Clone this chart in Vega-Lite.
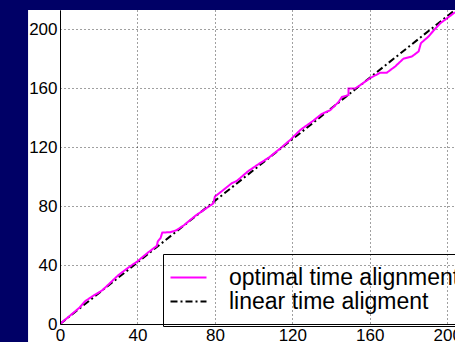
{
  "$schema": "https://vega.github.io/schema/vega-lite/v6.json",
  "autosize": "none",
  "padding": {"left": 60, "top": 10, "right": 0, "bottom": 18},
  "width": 395,
  "height": 314,
  "background": "#000066",
  "config": {
    "view": {"stroke": null},
    "font": "Liberation Sans",
    "axis": {
      "labelFont": "Liberation Sans",
      "labelFontSize": 17,
      "labelColor": "#000000",
      "domainColor": "#000000",
      "domainWidth": 1,
      "ticks": false,
      "labelPadding": 3,
      "gridColor": "#000000",
      "gridDash": [1, 3],
      "gridOpacity": 0.75,
      "gridWidth": 1,
      "labelFlush": false,
      "title": null
    },
    "legend": {
      "title": null,
      "fillColor": "#ffffff",
      "strokeColor": "#000000",
      "padding": 12,
      "symbolType": "M-2,0H2",
      "symbolSize": 324,
      "symbolStrokeWidth": 2,
      "symbolOffset": 2,
      "labelFontSize": 23,
      "labelFont": "Liberation Sans",
      "labelColor": "#000000",
      "labelOffset": 29,
      "rowPadding": -13,
      "labelLimit": 400
    }
  },
  "datasets": {
    "paths": [
      {"i": 0, "series": "linear time aligment", "frame_ref": 0, "frame_test": 0},
      {"i": 1, "series": "linear time aligment", "frame_ref": 204, "frame_test": 213},
      {"i": 0, "series": "optimal time alignment", "frame_ref": 0, "frame_test": 0},
      {"i": 1, "series": "optimal time alignment", "frame_ref": 5, "frame_test": 5.5},
      {"i": 2, "series": "optimal time alignment", "frame_ref": 10, "frame_test": 11},
      {"i": 3, "series": "optimal time alignment", "frame_ref": 13, "frame_test": 15.5},
      {"i": 4, "series": "optimal time alignment", "frame_ref": 17, "frame_test": 19},
      {"i": 5, "series": "optimal time alignment", "frame_ref": 22, "frame_test": 23},
      {"i": 6, "series": "optimal time alignment", "frame_ref": 26, "frame_test": 28},
      {"i": 7, "series": "optimal time alignment", "frame_ref": 30, "frame_test": 33},
      {"i": 8, "series": "optimal time alignment", "frame_ref": 34.5, "frame_test": 37.5},
      {"i": 9, "series": "optimal time alignment", "frame_ref": 40, "frame_test": 42.5},
      {"i": 10, "series": "optimal time alignment", "frame_ref": 45, "frame_test": 48},
      {"i": 11, "series": "optimal time alignment", "frame_ref": 50, "frame_test": 53},
      {"i": 12, "series": "optimal time alignment", "frame_ref": 50.5, "frame_test": 56},
      {"i": 13, "series": "optimal time alignment", "frame_ref": 52, "frame_test": 58.5},
      {"i": 14, "series": "optimal time alignment", "frame_ref": 52.8, "frame_test": 62},
      {"i": 15, "series": "optimal time alignment", "frame_ref": 57, "frame_test": 62.3},
      {"i": 16, "series": "optimal time alignment", "frame_ref": 60, "frame_test": 63.5},
      {"i": 17, "series": "optimal time alignment", "frame_ref": 64, "frame_test": 67},
      {"i": 18, "series": "optimal time alignment", "frame_ref": 70, "frame_test": 73.5},
      {"i": 19, "series": "optimal time alignment", "frame_ref": 75, "frame_test": 78},
      {"i": 20, "series": "optimal time alignment", "frame_ref": 79.2, "frame_test": 81.8},
      {"i": 21, "series": "optimal time alignment", "frame_ref": 80, "frame_test": 86.5},
      {"i": 22, "series": "optimal time alignment", "frame_ref": 83.5, "frame_test": 90},
      {"i": 23, "series": "optimal time alignment", "frame_ref": 88.7, "frame_test": 95.5},
      {"i": 24, "series": "optimal time alignment", "frame_ref": 91.3, "frame_test": 97},
      {"i": 25, "series": "optimal time alignment", "frame_ref": 97, "frame_test": 103.5},
      {"i": 26, "series": "optimal time alignment", "frame_ref": 102, "frame_test": 108},
      {"i": 27, "series": "optimal time alignment", "frame_ref": 108, "frame_test": 113},
      {"i": 28, "series": "optimal time alignment", "frame_ref": 113.7, "frame_test": 119},
      {"i": 29, "series": "optimal time alignment", "frame_ref": 119, "frame_test": 125},
      {"i": 30, "series": "optimal time alignment", "frame_ref": 122.3, "frame_test": 129.3},
      {"i": 31, "series": "optimal time alignment", "frame_ref": 124, "frame_test": 131.5},
      {"i": 32, "series": "optimal time alignment", "frame_ref": 130.9, "frame_test": 138},
      {"i": 33, "series": "optimal time alignment", "frame_ref": 135.2, "frame_test": 142.5},
      {"i": 34, "series": "optimal time alignment", "frame_ref": 139.5, "frame_test": 145},
      {"i": 35, "series": "optimal time alignment", "frame_ref": 143.8, "frame_test": 150.5},
      {"i": 36, "series": "optimal time alignment", "frame_ref": 145.6, "frame_test": 154},
      {"i": 37, "series": "optimal time alignment", "frame_ref": 149, "frame_test": 155.3},
      {"i": 38, "series": "optimal time alignment", "frame_ref": 149, "frame_test": 159.8},
      {"i": 39, "series": "optimal time alignment", "frame_ref": 152.5, "frame_test": 159.8},
      {"i": 40, "series": "optimal time alignment", "frame_ref": 155, "frame_test": 162},
      {"i": 41, "series": "optimal time alignment", "frame_ref": 160.2, "frame_test": 166.8},
      {"i": 42, "series": "optimal time alignment", "frame_ref": 165.4, "frame_test": 170.5},
      {"i": 43, "series": "optimal time alignment", "frame_ref": 168.8, "frame_test": 170.5},
      {"i": 44, "series": "optimal time alignment", "frame_ref": 173.1, "frame_test": 174.7},
      {"i": 45, "series": "optimal time alignment", "frame_ref": 177.4, "frame_test": 180},
      {"i": 46, "series": "optimal time alignment", "frame_ref": 181.8, "frame_test": 181.5},
      {"i": 47, "series": "optimal time alignment", "frame_ref": 185.2, "frame_test": 184.9},
      {"i": 48, "series": "optimal time alignment", "frame_ref": 186.4, "frame_test": 190.5},
      {"i": 49, "series": "optimal time alignment", "frame_ref": 190.3, "frame_test": 195},
      {"i": 50, "series": "optimal time alignment", "frame_ref": 192.9, "frame_test": 199},
      {"i": 51, "series": "optimal time alignment", "frame_ref": 196.4, "frame_test": 204},
      {"i": 52, "series": "optimal time alignment", "frame_ref": 200, "frame_test": 207.5},
      {"i": 53, "series": "optimal time alignment", "frame_ref": 204, "frame_test": 211.5}
    ]
  },
  "layer": [
    {
      "data": {"values": [{}]},
      "mark": {"type": "rect", "fill": "#ffffff", "clip": false},
      "encoding": {
        "x": {"datum": -16.5, "type": "quantitative", "scale": {"domain": [0, 204], "nice": false, "zero": false}, "axis": {"values": [0, 40, 80, 120, 160, 200], "grid": true, "zindex": 1}},
        "x2": {"datum": 212},
        "y": {"datum": -13, "type": "quantitative", "scale": {"domain": [0, 213], "nice": false, "zero": false}, "axis": {"values": [0, 40, 80, 120, 160, 200], "grid": true, "zindex": 1}},
        "y2": {"datum": 213}
      }
    },
    {
      "data": {"name": "paths"},
      "mark": {"type": "line", "strokeWidth": 2, "clip": true},
      "encoding": {
        "x": {
          "field": "frame_ref", "type": "quantitative",
          "scale": {"domain": [0, 204], "nice": false, "zero": false},
          "axis": {"values": [0, 40, 80, 120, 160, 200], "grid": true, "zindex": 1}
        },
        "y": {
          "field": "frame_test", "type": "quantitative",
          "scale": {"domain": [0, 213], "nice": false, "zero": false},
          "axis": {"values": [0, 40, 80, 120, 160, 200], "grid": true, "zindex": 1}
        },
        "order": {"field": "i", "type": "quantitative"},
        "color": {
          "field": "series", "type": "nominal",
          "scale": {"domain": ["optimal time alignment", "linear time aligment"], "range": ["#ff00ff", "#000000"]},
          "legend": {"orient": "none", "legendX": 103, "legendY": 244}
        },
        "strokeDash": {
          "field": "series", "type": "nominal",
          "scale": {"domain": ["optimal time alignment", "linear time aligment"], "range": [[1, 0], [7, 3, 2, 3]]},
          "legend": {"orient": "none", "legendX": 103, "legendY": 244}
        }
      }
    }
  ]
}
